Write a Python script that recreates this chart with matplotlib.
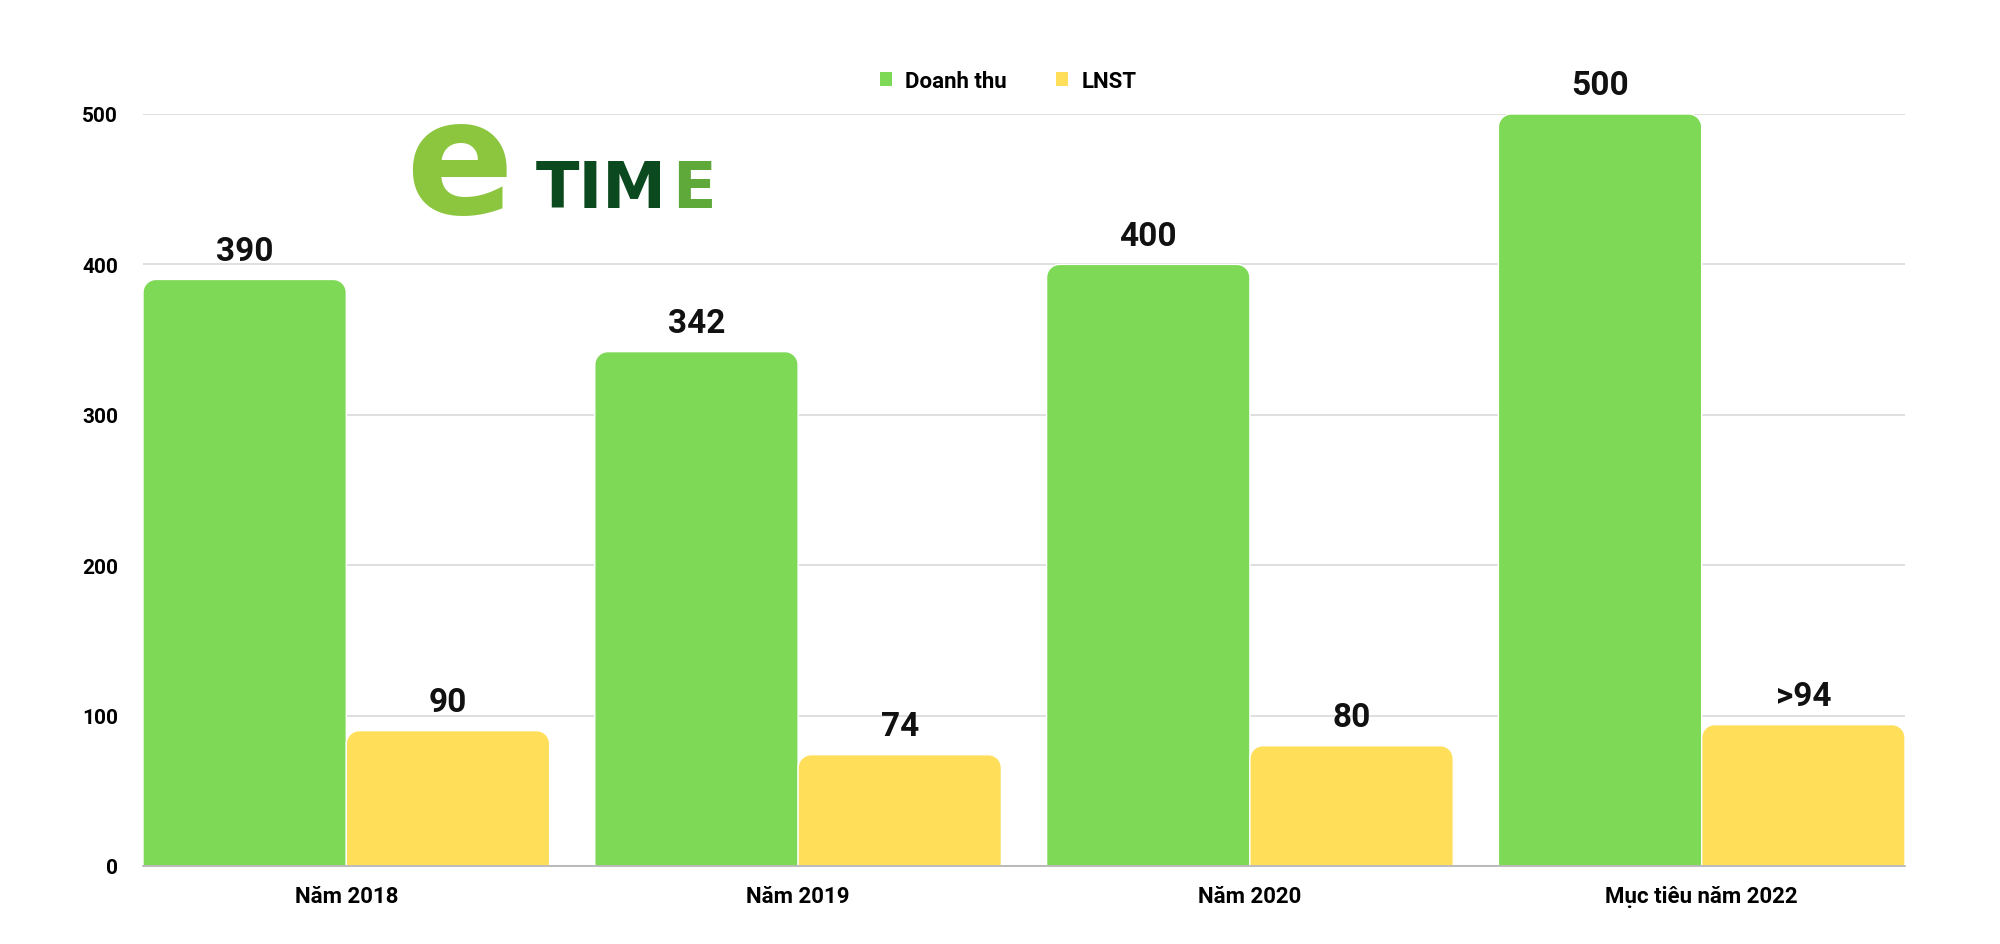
import matplotlib
matplotlib.use("Agg")
import matplotlib.pyplot as plt
from matplotlib.path import Path
from matplotlib.patches import PathPatch, Patch
import numpy as np

categories = ["Năm 2018", "Năm 2019", "Năm 2020", "Mục tiêu năm 2022"]
doanh_thu = [390, 342, 400, 500]
lnst = [90, 74, 80, 94]
dt_labels = ["390", "342", "400", "500"]
lnst_labels = ["90", "74", "80", ">94"]
yticks = [0, 100, 200, 300, 400, 500]

GREEN = "#7ED957"
YELLOW = "#FFDE59"
FONT = ["Liberation Sans Narrow", "Roboto", "DejaVu Sans"]
plt.rcParams['font.family'] = FONT

fig = plt.figure(figsize=(20, 9.45), dpi=100)
ax = fig.add_axes([143/2000, 1 - 867/945, (1905-143)/2000, (867-115)/945])

x = np.arange(len(categories))
w = 0.45
bars1 = ax.bar(x - w/2, doanh_thu, w, color=GREEN, label="Doanh thu", zorder=3)
bars2 = ax.bar(x + w/2, lnst, w, color=YELLOW, label="LNST", zorder=3)

ax.set_xlim(-0.45, len(categories) - 1 + 0.45)
ax.set_ylim(0, 500)
ax.set_yticks(yticks)
ax.set_yticklabels([str(v) for v in yticks], fontsize=15, fontweight="bold")
ax.set_xticks(x)
ax.set_xticklabels(categories, fontsize=16, fontweight="bold")
ax.tick_params(axis="both", length=0)
ax.tick_params(axis="y", pad=18)
ax.tick_params(axis="x", pad=14)
for s in ["top", "right", "left"]:
    ax.spines[s].set_visible(False)
ax.spines["bottom"].set_color("#b0b0b0")
ax.spines["bottom"].set_linewidth(1.2)
ax.spines["bottom"].set_zorder(4)
ax.yaxis.grid(True, color="#d9d9d9", linewidth=1.2, zorder=0)
ax.set_axisbelow(True)

# rounded top corners
fig.canvas.draw()
px_per_x = ax.transData.transform((1, 0))[0] - ax.transData.transform((0, 0))[0]
px_per_y = ax.transData.transform((0, 1))[1] - ax.transData.transform((0, 0))[1]
r_px = 13
rx = r_px / px_per_x
ry = r_px / px_per_y
for bars in (bars1, bars2):
    for b in bars:
        x0, y0 = b.get_x(), b.get_y()
        bw, bh = b.get_width(), b.get_height()
        x1, y1 = x0 + bw, y0 + bh
        k = 0.5523
        verts = [(x0, y0), (x0, y1 - ry),
                 (x0, y1 - ry + k*ry), (x0 + rx - k*rx, y1), (x0 + rx, y1),
                 (x1 - rx, y1),
                 (x1 - rx + k*rx, y1), (x1, y1 - ry + k*ry), (x1, y1 - ry),
                 (x1, y0), (x0, y0)]
        codes = [Path.MOVETO, Path.LINETO,
                 Path.CURVE4, Path.CURVE4, Path.CURVE4,
                 Path.LINETO,
                 Path.CURVE4, Path.CURVE4, Path.CURVE4,
                 Path.LINETO, Path.CLOSEPOLY]
        patch = PathPatch(Path(verts, codes), facecolor=b.get_facecolor(),
                          edgecolor="white", linewidth=1.0, zorder=3)
        ax.add_patch(patch)
        b.set_visible(False)

for b, t in zip(bars1, dt_labels):
    ax.annotate(t, (b.get_x() + b.get_width()/2, b.get_height()),
                xytext=(0, 9), textcoords="offset points", ha="center", va="bottom",
                fontsize=24, fontweight="bold", color="#111111")
for b, t in zip(bars2, lnst_labels):
    ax.annotate(t, (b.get_x() + b.get_width()/2, b.get_height()),
                xytext=(0, 9), textcoords="offset points", ha="center", va="bottom",
                fontsize=24, fontweight="bold", color="#111111")

handles = [Patch(facecolor=GREEN, edgecolor="none"), Patch(facecolor=YELLOW, edgecolor="none")]
leg = fig.legend(handles=handles, labels=["Doanh thu", "LNST"],
                 loc="center", bbox_to_anchor=(1008/2000, 1 - 82/945), ncol=2,
                 frameon=False, handlelength=0.55, handleheight=0.55,
                 handletextpad=0.6, columnspacing=2.2,
                 prop={"weight": "bold", "size": 16, "family": FONT})

# eTIME logo watermark
fig.text(405/2000, 1 - 170/945, "e", fontsize=115, fontweight="bold", color="#8CC63F",
         ha="left", va="center", family=["DejaVu Sans"])
fig.text(536/2000, 1 - 190/945, "TIM", fontsize=46, fontweight="bold", color="#0B4A1E",
         ha="left", va="center", family=["DejaVu Sans"])
fig.text(672/2000, 1 - 190/945, "E", fontsize=46, fontweight="bold", color="#5FA83A",
         ha="left", va="center", family=["DejaVu Sans"])

fig.savefig("out.png", dpi=100, facecolor="white")
